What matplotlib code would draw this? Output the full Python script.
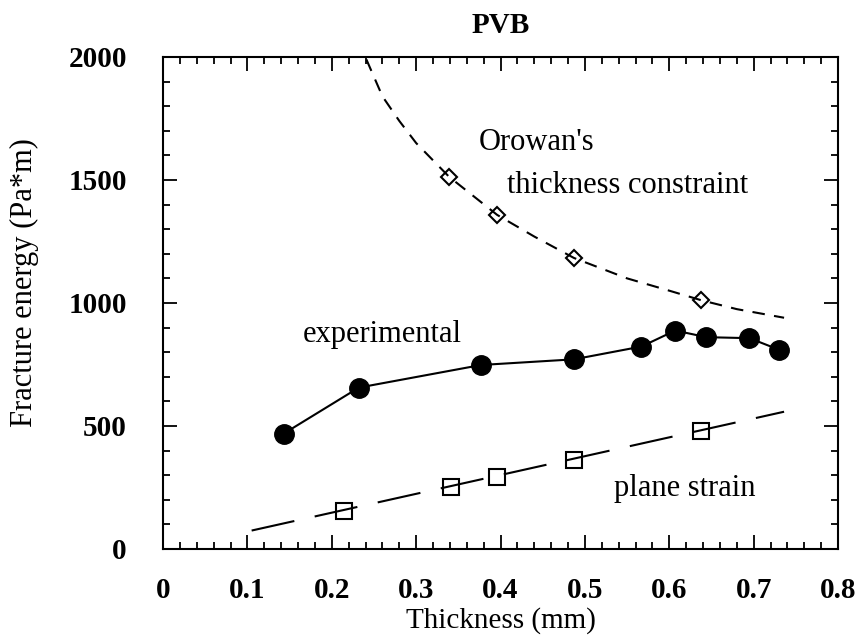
import matplotlib
matplotlib.use('Agg')
import numpy as np
import matplotlib.pyplot as plt
from matplotlib.ticker import MultipleLocator

# experimental fracture energy
exp_thick = [0.143, 0.232, 0.377, 0.487, 0.567, 0.607, 0.644, 0.695, 0.730]
exp_energy = [469, 656, 748, 771, 823, 888, 861, 857, 810]

# Orowan's thickness constraint curve
oro_curve_x = [0.241, 0.26, 0.28, 0.30, 0.339, 0.396, 0.44, 0.487, 0.55, 0.60, 0.638, 0.68, 0.736]
oro_curve_y = [1990, 1840, 1740, 1650, 1513, 1358, 1270, 1183, 1100, 1050, 1011, 975, 940]
oro_pts_x = [0.339, 0.396, 0.487, 0.638]
oro_pts_y = [1513, 1358, 1183, 1011]

# plane strain line and points
ps_line_x = [0.105, 0.736]
ps_line_y = [75, 558]
ps_pts_x = [0.215, 0.341, 0.396, 0.487, 0.638]
ps_pts_y = [154, 252, 293, 361, 480]

plt.rcParams['font.family'] = ['Liberation Serif', 'DejaVu Serif']

fig = plt.figure(figsize=(8.64, 6.38), dpi=100)
ax = fig.add_axes([0.1887, 0.1395, 0.7813, 0.7712])

ax.plot(oro_curve_x, oro_curve_y, color='black', lw=1.5, dashes=(6, 4.5))
ax.plot(oro_pts_x, oro_pts_y, 'D', ms=8, mfc='none', mec='black', mew=1.5)

ax.plot(ps_line_x, ps_line_y, color='black', lw=1.5, dashes=(21, 10))
ax.plot(ps_pts_x, ps_pts_y, 's', ms=12, mfc='none', mec='black', mew=1.5)

ax.plot(exp_thick, exp_energy, '-o', color='black', lw=1.5, ms=14)

ax.text(0.374, 1654, "Orowan's", fontsize=22, va='center', ha='left')
ax.text(0.408, 1479, "thickness constraint", fontsize=22, va='center', ha='left')
ax.text(0.166, 871, "experimental", fontsize=22, va='center', ha='left')
ax.text(0.534, 245, "plane strain", fontsize=22, va='center', ha='left')

ax.set_xlim(0, 0.8)
ax.set_ylim(0, 2000)
ax.xaxis.set_major_locator(MultipleLocator(0.1))
ax.xaxis.set_minor_locator(MultipleLocator(0.02))
ax.yaxis.set_major_locator(MultipleLocator(500))
ax.yaxis.set_minor_locator(MultipleLocator(100))
ax.set_xticks(np.arange(0, 0.81, 0.1))
ax.set_xticklabels(['0', '0.1', '0.2', '0.3', '0.4', '0.5', '0.6', '0.7', '0.8'])

ax.tick_params(which='both', direction='in', top=True, right=True, width=1.3)
ax.tick_params(which='major', length=10)
ax.tick_params(which='minor', length=5)
ax.tick_params(axis='x', which='major', pad=20, labelsize=21)
ax.tick_params(axis='y', which='major', pad=26, labelsize=21)
for lab in ax.get_xticklabels() + ax.get_yticklabels():
    lab.set_fontweight('bold')
for sp in ax.spines.values():
    sp.set_linewidth(1.5)

ax.set_xlabel('Thickness (mm)', fontsize=21)
ax.set_ylabel('Fracture energy (Pa*m)', fontsize=22)
ax.xaxis.set_label_coords(0.5, -0.118)
ax.yaxis.set_label_coords(-0.184, 0.541)
ax.set_title('PVB', fontsize=21, fontweight='bold', pad=17)

fig.savefig('out.png', dpi=100)
